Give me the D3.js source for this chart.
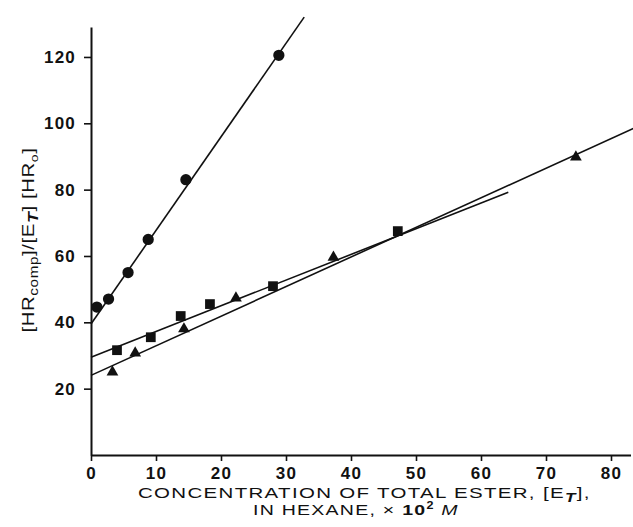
<!DOCTYPE html>
<html>
<head>
<meta charset="utf-8">
<script src="https://cdn.jsdelivr.net/npm/d3@7"></script>
<style>
  body { margin: 0; background: #fff; }
  svg { display: block; }
  text { fill: #111; }
</style>
</head>
<body>
<div id="chart"></div>
<script>
// values (x = [E_T] x 10^2 M, y = ratio)
var circleX = [0.9, 2.7, 5.7, 8.8, 14.6, 28.9]
var circleY = [44.6, 47.0, 55.0, 65.0, 83.0, 120.5]
var squareX = [4.0, 9.2, 13.8, 18.3, 28.0, 47.2]
var squareY = [31.6, 35.5, 41.9, 45.5, 50.9, 67.5]
var triangleX = [3.3, 6.8, 14.3, 22.3, 37.3, 74.6]
var triangleY = [25.0, 30.7, 38.0, 47.3, 59.6, 89.8]

// fitted straight lines, endpoints in data units
var circleFit = [[0, 39.5], [32.8, 132]]
var squareFit = [[0, 29.5], [64.2, 79.2]]
var triangleFit = [[0, 24], [83.5, 98.5]]

var xTicks = [0, 10, 20, 30, 40, 50, 60, 70, 80]
var yTicks = [20, 40, 60, 80, 100, 120]

var width = 633
    height = 527

var svg = d3.select("#chart")
  .append("svg")
    .attr("width", width)
    .attr("height", height)

var x = d3.scaleLinear()
  .domain([0, 83])
  .range([91, 91 + 83 * 6.5])
var y = d3.scaleLinear()
  .domain([0, 129])
  .range([455, 455 - 129 * 3.317])

// axes
var xAxis = svg.append("g")
  .attr("transform", "translate(0," + y(0) + ")")
  .call(d3.axisBottom(x).tickValues(xTicks).tickSize(6).tickSizeOuter(0).tickPadding(6))
var yAxis = svg.append("g")
  .attr("transform", "translate(" + x(0) + ",0)")
  .call(d3.axisLeft(y).tickValues(yTicks).tickSize(7).tickSizeOuter(0).tickPadding(8))

svg.selectAll(".domain").attr("stroke", "#111").attr("stroke-width", 2)
svg.selectAll(".tick line").attr("stroke", "#111").attr("stroke-width", 1.6)
svg.selectAll(".tick text")
  .attr("fill", "#111")
  .style("font-family", "'Liberation Sans', Arial, sans-serif")
  .style("font-weight", "bold")
  .style("font-size", "17px")
  .style("letter-spacing", "1.2px")

// fit lines
var line = d3.line()
  .x(function(d) { return x(d[0]) })
  .y(function(d) { return y(d[1]) })

var fits = [circleFit, squareFit, triangleFit]
svg.selectAll("myFits")
  .data(fits)
  .join("path")
  .attr("d", line)
  .attr("fill", "none")
  .attr("stroke", "#111")
  .attr("stroke-width", 1.6)

// markers
function drawPoints(xs, ys, type, size) {
  var sym = d3.symbol().type(type).size(size)
  svg.append("g")
    .selectAll("path")
    .data(xs.map(function(v, i) { return [v, ys[i]] }))
    .join("path")
    .attr("d", sym)
    .attr("transform", function(d) { return "translate(" + x(d[0]) + "," + y(d[1]) + ")" })
    .attr("fill", "#111")
}
drawPoints(circleX, circleY, d3.symbolCircle, 100)
drawPoints(squareX, squareY, d3.symbolSquare, 95)
drawPoints(triangleX, triangleY, d3.symbolTriangle, 60)

// stretch a label sideways so it covers the width seen in the scan
function stretch(t, target, px, py, rot) {
  var w = t.node().getBBox().width
  var s = target / w
  t.attr("transform", "translate(" + px + "," + py + ")" + (rot ? " rotate(" + rot + ")" : "") + " scale(" + s + ",1)")
}

// x axis title, two lines
var font = "'Liberation Sans', Arial, sans-serif"
var t1 = svg.append("text")
  .style("font-family", font)
  .style("font-size", "15.5px")
  .style("letter-spacing", "1px")
t1.append("tspan").text("CONCENTRATION OF TOTAL ESTER, [E")
t1.append("tspan").text("T").attr("dy", 4).style("font-style", "italic").style("font-weight", "bold").style("font-size", "13px")
t1.append("tspan").text("],").attr("dy", -4)
stretch(t1, 453, 138, 498)

var t2 = svg.append("text")
  .style("font-family", font)
  .style("font-size", "15.5px")
  .style("letter-spacing", "1px")
t2.append("tspan").text("IN HEXANE, \u00d7 ")
t2.append("tspan").text("10").style("font-weight", "bold")
t2.append("tspan").text("2").attr("dy", -6).style("font-size", "10px").style("font-weight", "bold")
t2.append("tspan").text(" ").attr("dy", 6)
t2.append("tspan").text("M").style("font-style", "italic")
stretch(t2, 206, 253, 515)

// y axis title, rotated
var t3 = svg.append("text")
  .attr("text-anchor", "middle")
  .style("font-family", font)
  .style("font-size", "16px")
  .style("letter-spacing", "0.5px")
t3.append("tspan").text("[HR")
t3.append("tspan").text("comp").attr("dy", 4).style("font-size", "12px")
t3.append("tspan").text("]/[E").attr("dy", -4)
t3.append("tspan").text("T").attr("dy", 4).style("font-style", "italic").style("font-weight", "bold").style("font-size", "14px")
t3.append("tspan").text("] [HR").attr("dy", -4)
t3.append("tspan").text("o").attr("dy", 4).style("font-size", "11px")
t3.append("tspan").text("]").attr("dy", -4)
stretch(t3, 185, 34, 240, -90)
</script>
</body>
</html>
